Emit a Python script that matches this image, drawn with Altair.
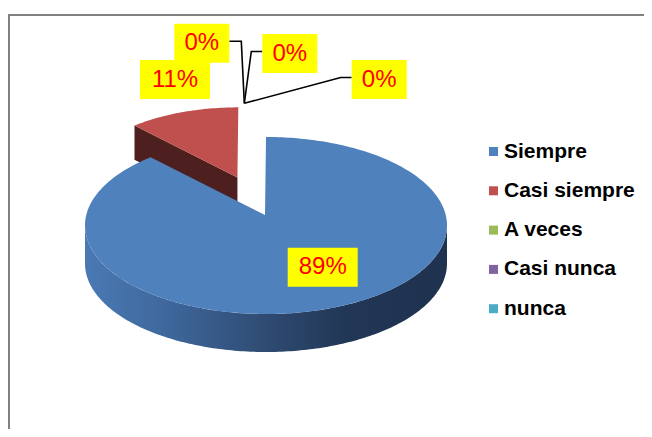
import numpy as np
import pandas as pd
import altair as alt

# ---- data ----
categories = ["Siempre", "Casi siempre", "A veces", "Casi nunca", "nunca"]
values = [89, 11, 0, 0, 0]
labels = ["89%", "11%", "0%", "0%", "0%"]
colors = ["#4f81bd", "#c0504d", "#9bbb59", "#8064a2", "#4bacc6"]

# ---- layout / style (pixel space of the picture) ----
explode = [0.0, 0.45, 0.0, 0.0, 0.0]
FAR_SCALE = 0.9                                    # exploded slice looks smaller (perspective)
CX, CY, RX, RY = 266.0, 225.5, 181.0, 88.5      # rim ellipse
TIPX, TIPY = 265.0, 215.0                          # apex in perspective
DEPTH = 38.0
label_x = [322.7, 175.0, 201.8, 289.8, 379.2]
label_y = [267.3, 79.5, 43.3, 53.5, 79.5]
label_w = [70, 70, 55, 55, 55]
label_h = 39
leader_side = [None, None, "right", "left", "left"]


def rim(deg):
    t = np.radians(deg)
    return CX + RX * np.sin(t), CY - RY * np.cos(t)


total = float(sum(values))
starts, ends = [], []
acc = 0.0
for v in values:
    starts.append(acc)
    acc += v / total * 360.0
    ends.append(acc)


def offset(k):
    mid = (starts[k] + ends[k]) / 2.0
    t = np.radians(mid)
    return explode[k] * RX * np.sin(t), -explode[k] * RY * np.cos(t)


def place(k, px, py):
    """apply explosion + perspective shrink around the slice apex"""
    dx, dy = offset(k)
    s = FAR_SCALE if explode[k] > 0 else 1.0
    return TIPX + dx + s * (px - TIPX), TIPY + dy + s * (py - TIPY)


# top faces
top_rows = []
for k, cat in enumerate(categories):
    if values[k] <= 0:
        continue
    pts = [(TIPX, TIPY)]
    n = max(3, int((ends[k] - starts[k]) / 1.0) + 1)
    for a in np.linspace(starts[k], ends[k], n):
        pts.append(rim(a))
    pts.append((TIPX, TIPY))
    for i, (px, py) in enumerate(pts):
        qx, qy = place(k, px, py)
        top_rows.append({"cat": cat, "i": i, "x": qx, "y": qy})
top_df = pd.DataFrame(top_rows)

# dark radial face of the exploded slice
face_rows = []
for k, cat in enumerate(categories):
    if values[k] <= 0 or explode[k] == 0:
        continue
    rx_, ry_ = rim(starts[k])
    pts = [(TIPX, TIPY), (rx_, ry_), (rx_, ry_ + DEPTH), (TIPX, TIPY + DEPTH), (TIPX, TIPY)]
    for i, (px, py) in enumerate(pts):
        qx, qy = place(k, px, py)
        face_rows.append({"cat": cat, "i": i, "x": qx, "y": qy})
face_df = pd.DataFrame(face_rows)

# outer wall (front half) of the main slice
wall_rows = []
for a in np.linspace(max(90.0, starts[0]), min(270.0, ends[0]), 181):
    px, py = rim(a)
    wall_rows.append({"x": px, "y": py, "y2": py + DEPTH})
wall_df = pd.DataFrame(wall_rows)

# labels
lab_df = pd.DataFrame({
    "cat": categories,
    "text": labels,
    "cx": label_x,
    "cy": label_y,
    "x0": [x - w / 2 for x, w in zip(label_x, label_w)],
    "x1": [x + w / 2 for x, w in zip(label_x, label_w)],
    "y0": [y - label_h / 2 for y in label_y],
    "y1": [y + label_h / 2 for y in label_y],
})

# leader lines for the zero slices, anchored at the rim point where they sit
lead_rows = []
r0x, r0y = rim(starts[2])
ax_, ay_ = place(1, r0x, r0y)
ax_ += 6
ay_ -= 4
for k, cat in enumerate(categories):
    side = leader_side[k]
    if side is None:
        continue
    yy = label_y[k] - 2
    if side == "right":
        ex = label_x[k] + label_w[k] / 2
        el = ex + 12
    else:
        ex = label_x[k] - label_w[k] / 2
        el = ex - 11
    for i, (px, py) in enumerate([(ex, yy), (el, yy), (ax_, ay_)]):
        lead_rows.append({"cat": cat, "i": i, "x": px, "y": py})
lead_df = pd.DataFrame(lead_rows)

XS = alt.Scale(domain=[8, 644], nice=False, zero=False)
YS = alt.Scale(domain=[8, 429], reverse=True, nice=False, zero=False)
X = alt.X("x:Q", scale=XS, axis=None)
Y = alt.Y("y:Q", scale=YS, axis=None)

frame_top = alt.Chart(pd.DataFrame({"k": [0]})).mark_rule(color="#808080", strokeWidth=2).encode(
    x=alt.value(0), x2=alt.value(636), y=alt.value(7)
)
frame_left = alt.Chart(pd.DataFrame({"k": [0]})).mark_rule(color="#808080", strokeWidth=2).encode(
    x=alt.value(1), y=alt.value(6), y2=alt.value(421)
)

dark_face = alt.Chart(face_df).mark_line(filled=True, color="#4d1f1f", strokeWidth=0).encode(
    x=X, y=Y, order="i:Q", detail="cat:N"
)

wall = alt.Chart(wall_df).mark_area(
    color=alt.Gradient(
        gradient="linear",
        stops=[
            alt.GradientStop(color="#4a79b3", offset=0),
            alt.GradientStop(color="#406aa0", offset=0.2),
            alt.GradientStop(color="#2f4b72", offset=0.5),
            alt.GradientStop(color="#213755", offset=0.72),
            alt.GradientStop(color="#1f3250", offset=1),
        ],
        x1=0, x2=1, y1=0, y2=0,
    )
).encode(x=X, y=Y, y2="y2:Q")

faces = alt.Chart(top_df).mark_line(filled=True, strokeWidth=0).encode(
    x=X,
    y=Y,
    order="i:Q",
    detail="cat:N",
    color=alt.Color(
        "cat:N",
        scale=alt.Scale(domain=categories, range=colors),
        legend=alt.Legend(
            title=None,
            orient="none",
            legendX=475,
            legendY=133,
            symbolType="square",
            symbolSize=81,
            symbolStrokeWidth=0,
            labelFontSize=21,
            labelFontWeight="bold",
            labelFont="Liberation Sans",
            labelColor="#000000",
            labelOffset=0,
            rowPadding=17.3,
            padding=0,
        ),
    ),
)

leaders = alt.Chart(lead_df).mark_line(color="#000000", strokeWidth=1.6).encode(
    x=X, y=Y, order="i:Q", detail="cat:N"
)

boxes = alt.Chart(lab_df).mark_rect(color="#ffff00").encode(
    x=alt.X("x0:Q", scale=XS, axis=None),
    x2="x1:Q",
    y=alt.Y("y0:Q", scale=YS, axis=None),
    y2="y1:Q",
)

texts = alt.Chart(lab_df).mark_text(
    color="#ff0000", fontSize=24, font="Liberation Sans", align="center", baseline="middle"
).encode(
    x=alt.X("cx:Q", scale=XS, axis=None),
    y=alt.Y("cy:Q", scale=YS, axis=None),
    text="text:N",
)

chart = alt.layer(frame_top, frame_left, dark_face, wall, faces, leaders, boxes, texts).properties(
    width=636, height=421, autosize=alt.AutoSizeParams(type="none"), padding=0
).configure_view(strokeWidth=0)

chart.save("out.html", embed_options={"renderer": "svg", "actions": False})
